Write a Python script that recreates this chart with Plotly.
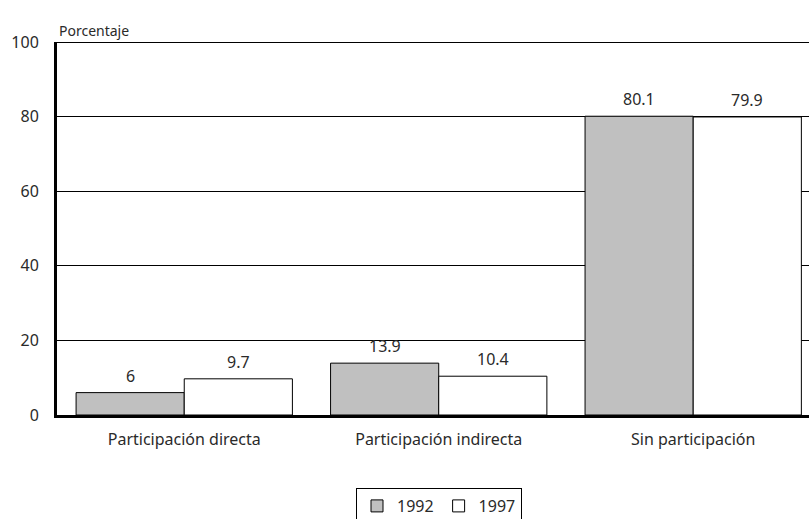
import plotly.graph_objects as go

categories = ["Participación directa", "Participación indirecta", "Sin participación"]
years = ["1992", "1997"]
values_1992 = [6, 13.9, 80.1]
values_1997 = [9.7, 10.4, 79.9]
y_ticks = [0, 20, 40, 60, 80, 100]

FONT = "Noto Sans"
TEXT = "#2a2a2a"

fig = go.Figure()
fig.add_trace(go.Bar(
    name=years[0], x=list(range(len(categories))), y=values_1992,
    marker=dict(color="#C0C0C0", line=dict(color="black", width=1)),
))
fig.add_trace(go.Bar(
    name=years[1], x=list(range(len(categories))), y=values_1997,
    marker=dict(color="white", line=dict(color="black", width=1)),
))

# value labels above each bar
bargap = 0.15
half = (1 - bargap) / 4
annotations = []
for i, (a, b) in enumerate(zip(values_1992, values_1997)):
    for off, v in ((-half, a), (half, b)):
        annotations.append(dict(
            x=i + off, y=v, xref="x", yref="y", text=f"{v:g}",
            showarrow=False, yanchor="bottom", yshift=4,
            font=dict(family=FONT, size=16, color=TEXT),
        ))

annotations.append(dict(
    x=0, y=1, xref="paper", yref="paper", text="Porcentaje",
    showarrow=False, xanchor="left", yanchor="bottom", yshift=0,
    font=dict(family=FONT, size=14, color=TEXT),
))

fig.update_layout(
    width=809, height=519,
    margin=dict(l=57, r=0, t=42, b=104),
    paper_bgcolor="white", plot_bgcolor="white",
    barmode="group", bargap=bargap, bargroupgap=0,
    font=dict(family=FONT, size=16, color=TEXT),
    annotations=annotations,
    showlegend=True,
    legend=dict(
        orientation="h", xref="container", yref="container",
        x=439 / 809, xanchor="center", y=(519 - 488) / 519, yanchor="top",
        bordercolor="black", borderwidth=1,
        font=dict(family=FONT, size=16, color=TEXT),
        itemwidth=30, tracegroupgap=0,
    ),
    shapes=[dict(type="line", xref="paper", yref="y", x0=0, x1=1, y0=100, y1=100,
                 line=dict(color="black", width=2))],
)

fig.update_xaxes(
    tickmode="array", tickvals=list(range(len(categories))), ticktext=categories,
    range=[-0.5, 2.455], showgrid=False, zeroline=False,
    showline=True, linecolor="black", linewidth=3,
    ticks="", ticklabelstandoff=8, tickfont=dict(family=FONT, size=16, color=TEXT),
)
fig.update_yaxes(
    range=[0, 100], tickvals=y_ticks, showgrid=True, gridcolor="black", gridwidth=1,
    zeroline=False, showline=True, linecolor="black", linewidth=3,
    ticks="", ticklabelstandoff=12, tickfont=dict(family=FONT, size=16, color=TEXT),
)

fig.write_html("out.html")
